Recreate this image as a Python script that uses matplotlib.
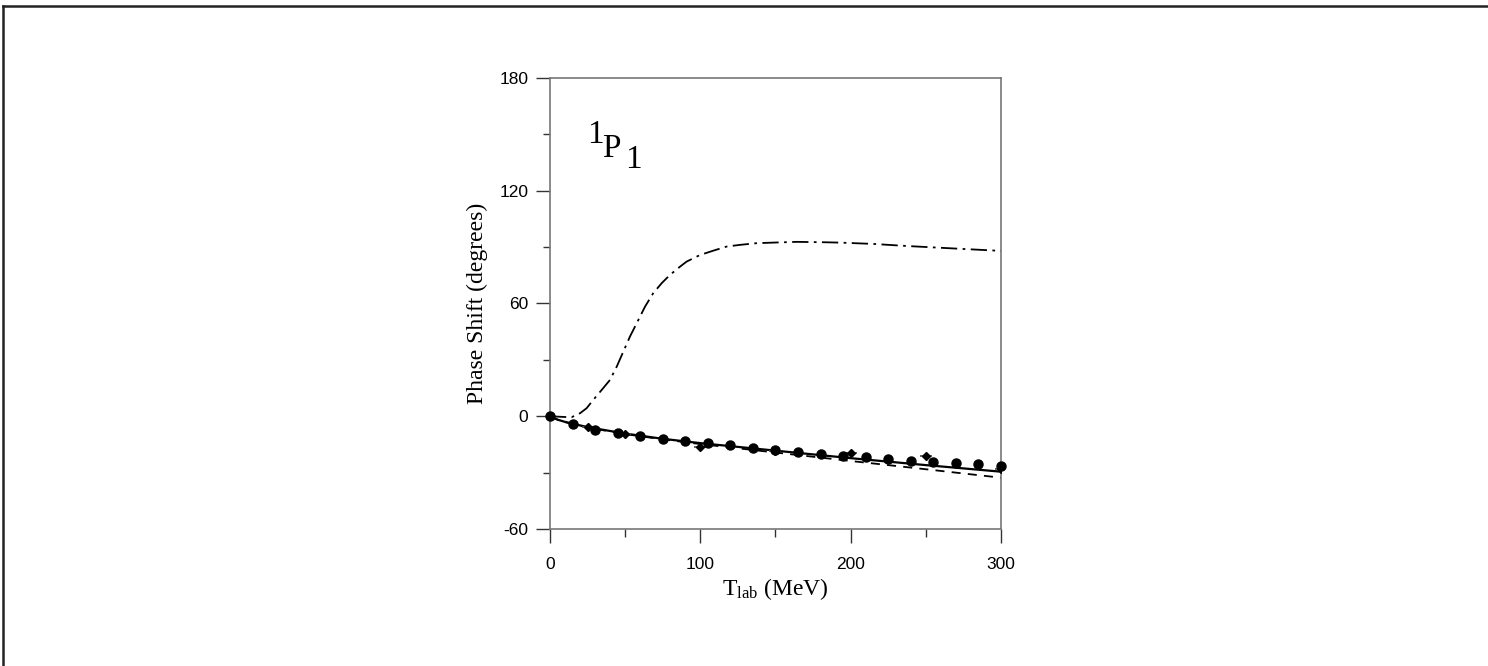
# 1P1 phase shift vs T_lab
import numpy as np
import matplotlib.pyplot as plt
from matplotlib.lines import Line2D
from matplotlib.ticker import MultipleLocator

plt.rcParams['mathtext.fontset'] = 'custom'
plt.rcParams['mathtext.rm'] = 'Liberation Serif'
plt.rcParams['mathtext.it'] = 'Liberation Serif:italic'
plt.rcParams['axes.unicode_minus'] = False

# data points (circles, every 15 MeV)
circ_t = [0, 15, 30, 45, 60, 75, 90, 105, 120, 135, 150, 165, 180, 195, 210,
          225, 240, 255, 270, 285, 300]
circ_d = [0, -4.3, -7.1, -8.7, -10.5, -11.9, -13.0, -14.2, -15.4, -16.9, -17.9,
          -18.8, -20.1, -21.0, -21.8, -22.9, -23.6, -24.6, -25.0, -25.6, -26.4]

# second data set (diamonds with horizontal bars)
diam_t = [25, 50, 100, 150, 200, 250, 300]
diam_d = [-5.5, -9.3, -16.2, -18.5, -19.7, -21.0, -28.0]
diam_terr = [4, 4, 4, 4, 4, 4, 4]

# model curves
solid_t = [0, 5, 10, 25, 50, 75, 100, 150, 200, 250, 300]
solid_d = [0, -1.8, -3.0, -5.8, -9.2, -12.0, -14.3, -18.3, -22.3, -26.0, -29.5]

dash_t = [0, 5, 10, 25, 50, 75, 100, 150, 200, 250, 300]
dash_d = [0, -1.8, -3.1, -6.0, -9.5, -12.3, -14.8, -19.3, -23.8, -28.2, -32.7]

dd_t = [0, 5, 10, 14.4, 20, 24.4, 28.8, 34.4, 39.9, 44.4, 48.8, 53.2, 57.7,
        63.2, 68.7, 74.3, 79.8, 86.5, 90.9, 99.8, 108.6, 117.5, 126.4, 137.5,
        148.5, 164.1, 181.8, 192.9, 215.1, 237.3, 270.6, 300]
dd_d = [0, -0.2, -0.4, -0.5, 1.6, 4.3, 8.7, 14.0, 19.3, 26.4, 34.4, 42.4, 49.5,
        58.3, 65.5, 70.8, 75.2, 79.6, 82.3, 85.8, 88.1, 90.3, 91.2, 92.1,
        92.4, 92.8, 92.6, 92.4, 91.7, 90.6, 89.2, 88.0]

fig = plt.figure(figsize=(14.88, 6.66), dpi=100)
ax = fig.add_axes([0.3696, 0.2057, 0.3031, 0.6772])

ax.plot(solid_t, solid_d, color='black', lw=1.6)
ax.plot(dash_t, dash_d, color='black', lw=1.3, dashes=(5, 4))
ax.plot(dd_t, dd_d, color='black', lw=1.3, dashes=(9, 3, 1.5, 3))

ax.errorbar(diam_t, diam_d, xerr=diam_terr, fmt='D', color='black', ms=4.5,
            ecolor='#555555', elinewidth=1.3, capsize=0, zorder=4)
ax.plot(circ_t, circ_d, 'o', color='black', ms=6.5, zorder=5, clip_on=False)

ax.set_xlim(0, 300)
ax.set_ylim(-60, 180)
ax.xaxis.set_major_locator(MultipleLocator(100))
ax.xaxis.set_minor_locator(MultipleLocator(50))
ax.yaxis.set_major_locator(MultipleLocator(60))
ax.yaxis.set_minor_locator(MultipleLocator(30))

for s in ax.spines.values():
    s.set_color('#777777')
    s.set_linewidth(1.2)
ax.tick_params(which='both', direction='out', color='#333333', width=1.0,
               top=False, right=False, labelsize=12.5)
ax.tick_params(axis='x', which='major', length=10, pad=10)
ax.tick_params(axis='x', which='minor', length=5.5)
ax.tick_params(axis='y', which='major', length=10, pad=5.5)
ax.tick_params(axis='y', which='minor', length=5)
for lab in ax.get_xticklabels() + ax.get_yticklabels():
    lab.set_fontfamily('Liberation Sans')

ax.set_xlabel(r'$\mathrm{T_{lab}}$ (MeV)', fontfamily='Liberation Serif',
              fontsize=17, labelpad=3)
ax.set_ylabel('Phase Shift (degrees)', fontfamily='Liberation Serif',
              fontsize=17, labelpad=8)

# state label 1P1
ax.text(0.082, 0.856, '1', transform=ax.transAxes, fontfamily='Liberation Serif',
        fontsize=24, va='baseline', ha='left')
ax.text(0.115, 0.825, 'P', transform=ax.transAxes, fontfamily='Liberation Serif',
        fontsize=24, va='baseline', ha='left')
ax.text(0.166, 0.800, '1', transform=ax.transAxes, fontfamily='Liberation Serif',
        fontsize=24, va='baseline', ha='left')

# outer frame pieces (top and left)
fig.add_artist(Line2D([0.002, 1.0], [0.9915, 0.9915], transform=fig.transFigure,
                      color='#222222', lw=1.8))
fig.add_artist(Line2D([0.0022, 0.0022], [0.0, 0.9915], transform=fig.transFigure,
                      color='#222222', lw=1.8))

fig.savefig('out.png', dpi=100)
